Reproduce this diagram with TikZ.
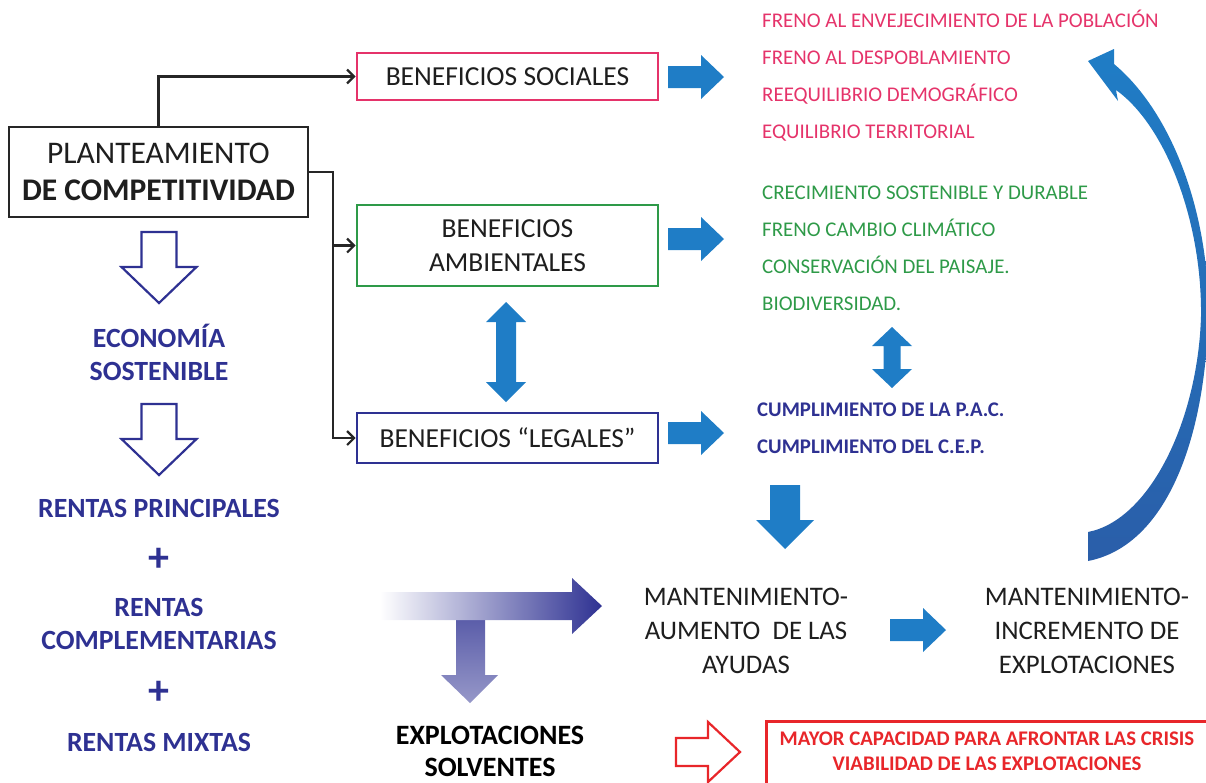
\documentclass[tikz,border=0pt]{standalone}
\usepackage{fontspec}
\setmainfont{Carlito}
\usetikzlibrary{arrows.meta}
\definecolor{pinkc}{HTML}{E5336A}
\definecolor{greenc}{HTML}{2E9A48}
\definecolor{navyc}{HTML}{2E3192}
\definecolor{bluea}{HTML}{1F7DC6}
\definecolor{blueb}{HTML}{2A5EA9}
\definecolor{redc}{HTML}{E8262A}
\definecolor{textc}{HTML}{1E1E1E}
\tikzset{
  benbox/.style={draw, line width=2.8pt, fill=white, minimum width=301pt, text=textc,
    font=\fontsize{27.5}{34}\selectfont, align=center, inner sep=0pt},
  item/.style={anchor=base west, inner sep=0pt, font=\fontsize{20.9}{21}\selectfont},
  litem/.style={anchor=base west, inner sep=0pt, font=\fontsize{20.8}{21}\selectfont\bfseries, text=navyc},
  lefttxt/.style={inner sep=0pt, align=center, text=navyc, font=\fontsize{27.8}{33}\selectfont\bfseries},
  midtxt/.style={inner sep=0pt, align=center, text=textc, font=\fontsize{26.8}{34}\selectfont},
  conn/.style={draw=black!85, line width=2.4pt, -{Straight Barb[length=7pt,width=14pt,line width=2.2pt]}},
  hollow/.style={draw=navyc, line width=2.2pt, line join=miter},
  rarr/.pic={\fill[bluea] (0,-11)--(33,-11)--(33,-22)--(56,0)--(33,22)--(33,11)--(0,11)--cycle;}
}
\begin{document}
\begin{tikzpicture}[x=1pt,y=-1pt]
\useasboundingbox (0,0) rectangle (1206,782);
\clip (0,0) rectangle (1206,782);

% main boxes
\node (plan) [draw=black!85, line width=2.4pt, minimum width=299pt, minimum height=90pt, align=center,
  inner sep=0pt, text=textc, font=\fontsize{31.5}{37}\selectfont] at (158.5,172)
  {PLANTEAMIENTO\\\textbf{DE COMPETITIVIDAD}};
\node (soc) [benbox, draw=pinkc, minimum height=47pt] at (507.5,76.5) {BENEFICIOS SOCIALES};
\node (amb) [benbox, draw=greenc, minimum height=81pt] at (507.5,245.5) {BENEFICIOS\\AMBIENTALES};
\node (leg) [benbox, draw=navyc, minimum height=50pt] at (507.5,438) {BENEFICIOS ``LEGALES''};

% connectors
\coordinate (j) at (333,172);
\draw[conn] (plan.north) |- (soc.west);
\draw[conn] (plan.east) -- (j) |- (amb.west);
\draw[conn] (j) |- (leg.west);

% blue right arrows
\pic at (668,77) {rarr};
\pic at (668,239) {rarr};
\pic at (668,433) {rarr};
\pic at (890,630) {rarr};

% down arrow
\fill[bluea] (770,485)--(800,485)--(800,520)--(814,520)--(785,549)--(756,520)--(770,520)--cycle;

% vertical double arrows
\fill[bluea] (506,302)--(526,322)--(516,322)--(516,382)--(526,382)--(506,402)--(486,382)--(496,382)--(496,322)--(486,322)--cycle;
\fill[bluea] (892,327)--(912,346)--(900.5,346)--(900.5,369)--(912,369)--(892,388)--(872,369)--(883.5,369)--(883.5,346)--(872,346)--cycle;

% curved arrow
\shade[top color=bluea, bottom color=blueb]
  (1114,64) .. controls (1175,115) and (1210,220) .. (1208,316)
  .. controls (1206,430) and (1170,545) .. (1088,561)
  -- (1088,532)
  .. controls (1150,520) and (1198,420) .. (1201,316)
  .. controls (1202,220) and (1165,125) .. (1116,90)
  -- (1118,101) -- (1088,61) -- (1114,49) -- cycle;

% pink items
\node (s1) [item, text=pinkc] at (762,27) {FRENO AL ENVEJECIMIENTO DE LA POBLACIÓN};
\node (s2) [item, text=pinkc] at (762,64) {FRENO AL DESPOBLAMIENTO};
\node (s3) [item, text=pinkc] at (762,101) {REEQUILIBRIO DEMOGRÁFICO};
\node (s4) [item, text=pinkc] at (762,138) {EQUILIBRIO TERRITORIAL};
% green items
\node (a1) [item, text=greenc] at (762,199) {CRECIMIENTO SOSTENIBLE Y DURABLE};
\node (a2) [item, text=greenc] at (762,236) {FRENO CAMBIO CLIMÁTICO};
\node (a3) [item, text=greenc] at (762,273) {CONSERVACIÓN DEL PAISAJE.};
\node (a4) [item, text=greenc] at (762,310) {BIODIVERSIDAD.};
% legal items
\node (l1) [litem] at (757,416) {CUMPLIMIENTO DE LA P.A.C.};
\node (l2) [litem] at (757,453) {CUMPLIMIENTO DEL C.E.P.};

% left column
\draw[hollow] (141.5,232)--(176.5,232)--(176.5,267)--(196.5,267)--(159,303)--(121.5,267)--(141.5,267)--cycle;
\draw[hollow] (141.5,404)--(176.5,404)--(176.5,439)--(196.5,439)--(159,475)--(121.5,439)--(141.5,439)--cycle;
\node (eco) [lefttxt] at (159,352) {ECONOMÍA\\SOSTENIBLE};
\node (rp) [lefttxt] at (159,508) {RENTAS PRINCIPALES};
\node (p1) [lefttxt, font=\fontsize{42}{42}\selectfont\bfseries] at (159,560) {+};
\node (rc) [lefttxt] at (159,624) {RENTAS\\COMPLEMENTARIAS};
\node (p2) [lefttxt, font=\fontsize{42}{42}\selectfont\bfseries] at (159,693) {+};
\node (rm) [lefttxt] at (159,742) {RENTAS MIXTAS};

% T arrow
\shade[top color=navyc!80!white, bottom color=navyc!50!white]
  (456,615)--(485,615)--(485,675)--(498,675)--(470,703)--(441,675)--(456,675)--cycle;
\shade[left color=white, right color=navyc]
  (380,592)--(572,592)--(572,578)--(602,606)--(572,634)--(572,620)--(380,620)--cycle;
\node (sol) [inner sep=0pt, align=center, text=black, font=\fontsize{28}{32}\selectfont\bfseries] at (490,751)
  {EXPLOTACIONES\\SOLVENTES};

% mantenimiento texts
\node (ayu) [midtxt] at (746,631) {MANTENIMIENTO-\\AUMENTO~~DE LAS\\AYUDAS};
\node (exp) [midtxt] at (1087,631) {MANTENIMIENTO-\\INCREMENTO DE\\EXPLOTACIONES};

% red
\draw[redc, line width=2.2pt, line join=miter] (676,738)--(708,738)--(708,722)--(740,752)--(708,782)--(708,766)--(676,766)--cycle;
\node (redbox) [draw=redc, line width=2.8pt, anchor=north west, minimum width=470pt, minimum height=90pt, inner sep=0pt] at (765,720) {};
\node (redtxt) [inner sep=0pt, align=center, text=redc, font=\fontsize{20.8}{25}\selectfont\bfseries] at (987,751)
  {MAYOR CAPACIDAD PARA AFRONTAR LAS CRISIS\\VIABILIDAD DE LAS EXPLOTACIONES};
\end{tikzpicture}
\end{document}
